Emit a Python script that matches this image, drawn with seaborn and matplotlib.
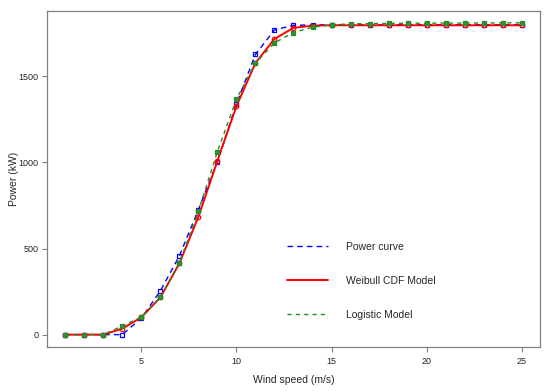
import matplotlib
matplotlib.use("Agg")
import matplotlib.pyplot as plt
import seaborn as sns
import pandas as pd

wind_speed = list(range(1, 26))
power_curve = [0, 0, 0, 0, 95, 254, 457, 726, 1005, 1340, 1628, 1770, 1797, 1799,
               1800, 1800, 1800, 1800, 1800, 1800, 1800, 1800, 1800, 1800, 1800]
weibull_cdf = [0, 0, 0, 35, 100, 216, 414, 684, 1010, 1327, 1578, 1718, 1782, 1795,
               1797, 1797, 1797, 1797, 1797, 1797, 1797, 1797, 1797, 1797, 1797]
logistic = [0, 0, 0, 50, 102, 216, 414, 717, 1063, 1368, 1578, 1695, 1755, 1786,
            1800, 1805, 1807, 1808, 1809, 1809, 1810, 1810, 1810, 1811, 1811]
series_labels = ["Power curve", "Weibull CDF Model", "Logistic Model"]
x_ticks = [5, 10, 15, 20, 25]
y_ticks = [0, 500, 1000, 1500]

sns.set_style("white")
plt.rcParams["font.family"] = ["Liberation Sans", "DejaVu Sans"]

fig = plt.figure(figsize=(5.5, 3.92), dpi=100)
ax = fig.add_axes([47 / 550, 1 - 347 / 392, (540 - 47) / 550, (347 - 11) / 392])

df = pd.DataFrame({"x": wind_speed, "pc": power_curve, "wb": weibull_cdf, "lg": logistic})

sns.lineplot(data=df, x="x", y="pc", ax=ax, color="#0000FF", linewidth=1.0,
             marker="s", markersize=3.2, markerfacecolor="none",
             markeredgecolor="#0000FF", markeredgewidth=0.9, label=series_labels[0])
ax.lines[-1].set_dashes((4, 3))
sns.lineplot(data=df, x="x", y="wb", ax=ax, color="#FF0000", linewidth=1.4,
             marker="o", markersize=3.2, markerfacecolor="none",
             markeredgecolor="#FF0000", markeredgewidth=0.9, label=series_labels[1])
sns.lineplot(data=df, x="x", y="lg", ax=ax, color="#228B22", linewidth=1.0,
             marker="s", markersize=3.2, markerfacecolor="#3A8F3A",
             markeredgecolor="#228B22", markeredgewidth=0.9, label=series_labels[2])
ax.lines[-1].set_dashes((3, 3))

ax.set_xlim(0.04, 25.96)
ax.set_ylim(-72, 1880)
ax.set_xticks(x_ticks)
ax.set_yticks(y_ticks)
ax.set_xticklabels([str(t) for t in x_ticks])
ax.set_yticklabels([str(t) for t in y_ticks])
ax.tick_params(axis="both", direction="out", length=3.8, width=0.8, color="#808080",
               labelsize=6.5, bottom=True, left=True)
ax.tick_params(axis="x", pad=3.2)
ax.tick_params(axis="y", pad=2.2)
for s in ax.spines.values():
    s.set_color("#808080")
    s.set_linewidth(0.9)
    s.set_visible(True)

ax.set_xlabel("Wind speed (m/s)", fontsize=7.5)
ax.set_ylabel("Power (kW)", fontsize=7.5)
ax.xaxis.set_label_coords(0.5, -0.083)
ax.yaxis.set_label_coords(-0.056, 0.5)

handles, labels = ax.get_legend_handles_labels()
leg = ax.legend(handles, labels, loc="center left",
                bbox_to_anchor=(287 / 550, 1 - 281 / 392), bbox_transform=fig.transFigure,
                frameon=False, fontsize=7.5, borderpad=0, borderaxespad=0,
                handlelength=3.9, handletextpad=1.8, labelspacing=2.3)
for h in leg.legend_handles:
    h.set_marker("")

fig.savefig("out.png", dpi=100)
